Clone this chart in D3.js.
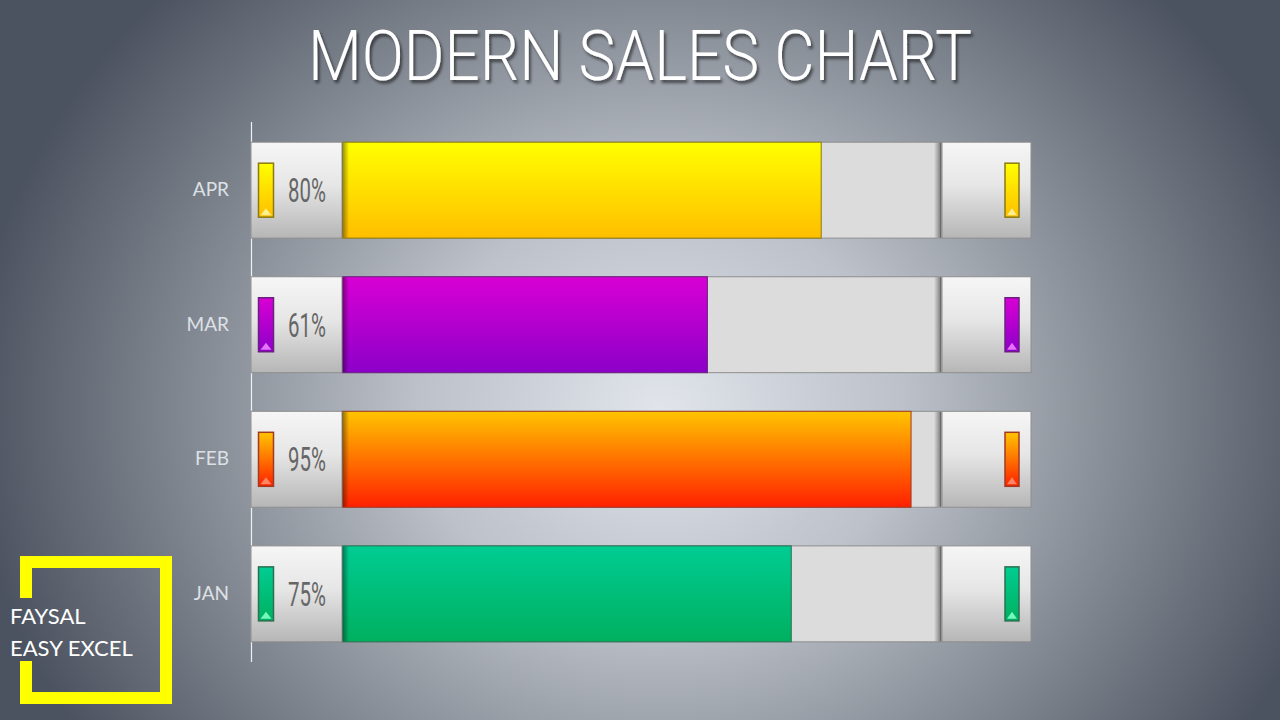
<!DOCTYPE html>
<html>
<head>
<meta charset="utf-8">
<script src="https://cdn.jsdelivr.net/npm/d3@7/dist/d3.min.js"></script>
<style>
  html, body { margin: 0; padding: 0; background: #5a616d; }
  svg { display: block; }
</style>
</head>
<body>
<svg id="chart" width="1280" height="720"></svg>
<script>
// ---- data ----
const categories = ["APR", "MAR", "FEB", "JAN"];
const values = [80, 61, 95, 75];
const title = "MODERN SALES CHART";
const brandLines = ["FAYSAL", "EASY EXCEL"];

// ---- styling palette (per category, top → bottom of bar) ----
const barTop = ["#ffff00", "#d800d4", "#ffc400", "#00cc92"];
const barBottom = ["#ffbe00", "#8c00c8", "#ff2000", "#00b060"];
const barEdge = ["#8a7a10", "#6a2080", "#a03a20", "#2a7050"];
const barTip = ["#fff4a0", "#f080ff", "#ff9070", "#80ffc8"];

const W = 1280, H = 720;
const svg = d3.select("#chart");
const defs = svg.append("defs");

// background
const bg = defs.append("radialGradient").attr("id", "bg")
  .attr("gradientUnits", "userSpaceOnUse")
  .attr("cx", 660).attr("cy", 410).attr("r", 600)
  .attr("gradientTransform", "translate(660,410) scale(1.15,1) translate(-660,-410)");
bg.append("stop").attr("offset", "0%").attr("stop-color", "#e1e5eb");
bg.append("stop").attr("offset", "35%").attr("stop-color", "#bcc1ca");
bg.append("stop").attr("offset", "70%").attr("stop-color", "#80868f");
bg.append("stop").attr("offset", "100%").attr("stop-color", "#4c5360");
svg.append("rect").attr("width", W).attr("height", H).attr("fill", "url(#bg)");

// filters
const sh = defs.append("filter").attr("id", "tshadow").attr("x", "-10%").attr("y", "-30%").attr("width", "120%").attr("height", "160%");
sh.append("feDropShadow").attr("dx", 2).attr("dy", 3).attr("stdDeviation", 1.6)
  .attr("flood-color", "#000").attr("flood-opacity", 0.55);

// box gradient
const boxG = defs.append("linearGradient").attr("id", "boxG").attr("x1", 0).attr("y1", 0).attr("x2", 0).attr("y2", 1);
boxG.append("stop").attr("offset", "0%").attr("stop-color", "#f6f6f6");
boxG.append("stop").attr("offset", "45%").attr("stop-color", "#e6e6e6");
boxG.append("stop").attr("offset", "100%").attr("stop-color", "#b6b6b6");

// left-edge shadow on bars
const leftSh = defs.append("linearGradient").attr("id", "leftSh").attr("x1", 0).attr("y1", 0).attr("x2", 1).attr("y2", 0);
leftSh.append("stop").attr("offset", "0%").attr("stop-color", "#000").attr("stop-opacity", 0.45);
leftSh.append("stop").attr("offset", "100%").attr("stop-color", "#000").attr("stop-opacity", 0);

// right-edge shadow on track
const rightSh = defs.append("linearGradient").attr("id", "rightSh").attr("x1", 0).attr("y1", 0).attr("x2", 1).attr("y2", 0);
rightSh.append("stop").attr("offset", "0%").attr("stop-color", "#000").attr("stop-opacity", 0);
rightSh.append("stop").attr("offset", "100%").attr("stop-color", "#000").attr("stop-opacity", 0.45);

categories.forEach((c, i) => {
  const g = defs.append("linearGradient").attr("id", "bar" + i).attr("x1", 0).attr("y1", 0).attr("x2", 0).attr("y2", 1);
  g.append("stop").attr("offset", "0%").attr("stop-color", barTop[i]);
  g.append("stop").attr("offset", "100%").attr("stop-color", barBottom[i]);
});

// ---- scales ----
const y = d3.scaleBand().domain(categories).range([122, 662]).paddingInner(0.287).paddingOuter(0.15);
const x = d3.scaleLinear().domain([0, 100]).range([342, 941]);
const bw = y.bandwidth();
const leftBoxX = 251;
const rightBoxX = 942, rightBoxW = 89;

// title
svg.append("text")
  .attr("x", 640).attr("y", 80)
  .attr("text-anchor", "middle")
  .attr("font-family", "Roboto")
  .attr("font-weight", 300)
  .attr("font-size", 70)
  .attr("fill", "#ffffff")
  .attr("textLength", 664)
  .attr("lengthAdjust", "spacingAndGlyphs")
  .attr("filter", "url(#tshadow)")
  .text(title);

// axis
const yAxis = d3.axisLeft(y).tickSize(0).tickPadding(22);
const ax = svg.append("g").attr("transform", `translate(${leftBoxX},0)`).call(yAxis);
ax.select(".domain").attr("stroke", "#eef0f3").attr("stroke-width", 1.2).attr("d", "M0.5,122V662");
ax.selectAll("text")
  .attr("font-family", "Lato")
  .attr("font-size", 19)
  .attr("fill", "#dde1e6");

// rows
const rows = svg.append("g").selectAll("g.row").data(categories).join("g")
  .attr("class", "row")
  .attr("transform", d => `translate(0,${y(d)})`);

// track
rows.append("rect")
  .attr("x", x(0)).attr("y", 0)
  .attr("width", x(100) - x(0)).attr("height", bw)
  .attr("fill", "#dcdcdc").attr("stroke", "#8e8e8e").attr("stroke-width", 1);
rows.append("rect")
  .attr("x", x(100) - 7).attr("y", 0.5)
  .attr("width", 7).attr("height", bw - 1)
  .attr("fill", "url(#rightSh)");

// value bar
rows.append("rect")
  .attr("x", x(0)).attr("y", 0)
  .attr("width", (d, i) => x(values[i]) - x(0)).attr("height", bw)
  .attr("fill", (d, i) => `url(#bar${i})`)
  .attr("stroke", (d, i) => barEdge[i]).attr("stroke-width", 1);
rows.append("rect")
  .attr("x", x(0)).attr("y", 0.5)
  .attr("width", 7).attr("height", bw - 1)
  .attr("fill", "url(#leftSh)");

// left box
rows.append("rect")
  .attr("x", leftBoxX).attr("y", 0)
  .attr("width", x(0) - leftBoxX).attr("height", bw)
  .attr("fill", "url(#boxG)").attr("stroke", "#8e8e8e").attr("stroke-width", 1);

// right box
rows.append("rect")
  .attr("x", rightBoxX).attr("y", 0)
  .attr("width", rightBoxW).attr("height", bw)
  .attr("fill", "url(#boxG)").attr("stroke", "#8e8e8e").attr("stroke-width", 1);

// indicators
function indicator(sel, ix, w) {
  const top = 21, h = 54;
  sel.append("rect")
    .attr("x", ix).attr("y", top).attr("width", w).attr("height", h)
    .attr("fill", (d, i) => `url(#bar${i})`)
    .attr("stroke", (d, i) => barEdge[i]).attr("stroke-width", 1.5);
  sel.append("path")
    .attr("d", `M${ix + 2},${top + h - 2} L${ix + w / 2},${top + h - 9} L${ix + w - 2},${top + h - 2} Z`)
    .attr("fill", (d, i) => barTip[i]).attr("opacity", 0.9);
}
indicator(rows, 258.5, 15);
indicator(rows, 1005, 14);

// percent labels
rows.append("text")
  .attr("transform", `translate(307,${bw / 2 + 12}) scale(0.6,1)`)
  .attr("text-anchor", "middle")
  .attr("font-family", "Roboto")
  .attr("font-weight", 400)
  .attr("font-size", 34)
  .attr("fill", "#666666")
  .text((d, i) => values[i] + "%");

// brand box
svg.append("path")
  .attr("d", "M26,598 V562 H166 V698 H26 V661")
  .attr("fill", "none").attr("stroke", "#ffff00").attr("stroke-width", 12)
  .attr("stroke-linejoin", "miter");
svg.append("g").selectAll("text").data(brandLines).join("text")
  .attr("x", 10).attr("y", (d, i) => 624 + i * 32)
  .attr("font-family", "Lato")
  .attr("font-size", 22)
  .attr("fill", "#ffffff")
  .text(d => d);
</script>
</body>
</html>
